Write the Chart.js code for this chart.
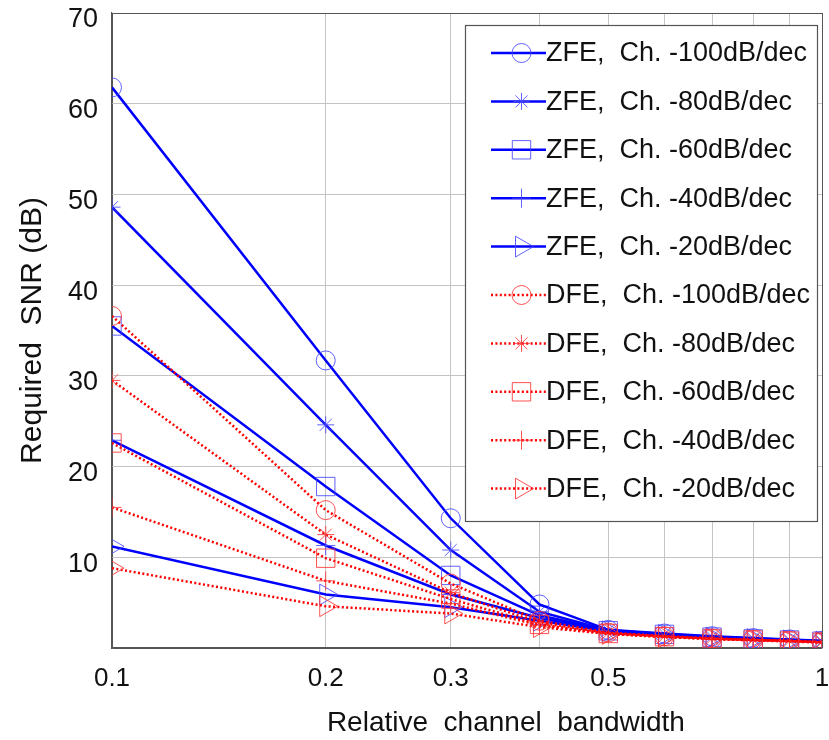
<!DOCTYPE html>
<html>
<head>
<meta charset="utf-8">
<title>Required SNR vs relative channel bandwidth</title>
<script src="https://cdn.jsdelivr.net/npm/chart.js@4/dist/chart.umd.min.js"></script>
<style>
  html, body { margin: 0; padding: 0; background: #ffffff; }
  #wrap { width: 829px; height: 740px; }
</style>
</head>
<body>
<div id="wrap"><canvas id="snr" width="829" height="740"></canvas></div>
<script>
// Relative channel bandwidth (x, log scale)
const bandwidth = [0.1, 0.2, 0.3, 0.4, 0.5, 0.6, 0.7, 0.8, 0.9, 1.0];
const xTickLabels = [0.1, 0.2, 0.3, 0.5, 1];
const yTickLabels = [10, 20, 30, 40, 50, 60, 70];

// Required SNR (dB), zero-forcing equalizer
const zfe100 = [61.8, 31.7, 14.3, 4.8, 2.0, 1.6, 1.3, 1.1, 0.95, 0.8];
const zfe80  = [48.6, 24.6, 10.8, 4.0, 1.95, 1.55, 1.25, 1.05, 0.9, 0.75];
const zfe60  = [35.5, 17.8, 8.0, 3.6, 1.9, 1.5, 1.2, 1.0, 0.88, 0.75];
const zfe40  = [22.9, 11.3, 5.9, 3.3, 1.9, 1.45, 1.2, 1.0, 0.85, 0.72];
const zfe20  = [11.2, 5.9, 4.5, 3.0, 1.85, 1.45, 1.15, 1.0, 0.85, 0.72];

// Required SNR (dB), decision-feedback equalizer
const dfe100 = [36.6, 15.2, 7.1, 3.0, 1.7, 1.3, 1.05, 0.9, 0.8, 0.65];
const dfe80  = [29.5, 12.5, 6.1, 2.8, 1.65, 1.3, 1.05, 0.9, 0.78, 0.65];
const dfe60  = [22.6, 9.9, 5.4, 2.6, 1.6, 1.25, 1.0, 0.88, 0.75, 0.62];
const dfe40  = [15.5, 7.4, 4.9, 2.5, 1.6, 1.25, 1.0, 0.85, 0.75, 0.62];
const dfe20  = [8.8, 4.6, 3.8, 2.3, 1.55, 1.2, 1.0, 0.85, 0.72, 0.6];

const seriesLabels = [
  'ZFE,  Ch. -100dB/dec', 'ZFE,  Ch. -80dB/dec', 'ZFE,  Ch. -60dB/dec',
  'ZFE,  Ch. -40dB/dec', 'ZFE,  Ch. -20dB/dec',
  'DFE,  Ch. -100dB/dec', 'DFE,  Ch. -80dB/dec', 'DFE,  Ch. -60dB/dec',
  'DFE,  Ch. -40dB/dec', 'DFE,  Ch. -20dB/dec'
];
const seriesValues = [zfe100, zfe80, zfe60, zfe40, zfe20, dfe100, dfe80, dfe60, dfe40, dfe20];

// marker shapes: o, *, square, +, right-pointing triangle
const markers = [
  { pointStyle: 'circle',   radius: 9.5, rotation: 0 },
  { pointStyle: 'star',     radius: 8.5, rotation: 0 },
  { pointStyle: 'rect',     radius: 13,  rotation: 0 },
  { pointStyle: 'cross',    radius: 9.5, rotation: 0 },
  { pointStyle: 'triangle', radius: 12,  rotation: 90 }
];

const BLUE = '#0000ff';
const BLUE_MARK = 'rgba(70,70,255,0.85)';
const RED = '#ff0000';
const RED_MARK = 'rgba(255,50,50,0.85)';

const datasets = seriesValues.map((vals, i) => {
  const isZfe = i < 5;
  const m = markers[i % 5];
  return {
    label: seriesLabels[i],
    data: bandwidth.map((x, k) => ({ x: x, y: vals[k] })),
    borderColor: isZfe ? BLUE : RED,
    borderWidth: 2.5,
    borderDash: isZfe ? [] : [2, 2.4],
    borderCapStyle: 'butt',
    tension: 0,
    fill: false,
    pointStyle: m.pointStyle,
    pointRadius: m.radius,
    pointRotation: m.rotation,
    pointBorderWidth: 1,
    pointBorderColor: isZfe ? BLUE_MARK : RED_MARK,
    pointBackgroundColor: 'rgba(0,0,0,0)',
    order: isZfe ? 1 : 0
  };
});

const FONT = "'Liberation Sans', Arial, Helvetica, sans-serif";

// Legend box drawn inside the axes, top-right corner, with line + marker samples
const insetLegend = {
  id: 'insetLegend',
  afterDraw(chart) {
    const ctx = chart.ctx;
    const area = chart.chartArea;
    const left = area.right - 357;
    const top = area.top + 12;
    const width = 352;
    const height = 496;
    ctx.save();
    ctx.fillStyle = '#ffffff';
    ctx.fillRect(left, top, width, height);
    ctx.strokeStyle = '#555555';
    ctx.lineWidth = 1.2;
    ctx.strokeRect(left + 0.5, top + 0.5, width, height);

    const rowStep = 48.4;
    chart.data.datasets.forEach((ds, i) => {
      const y = top + 28 + i * rowStep;
      const x0 = left + 26, x1 = left + 81, xm = left + 56.5;
      ctx.save();
      ctx.strokeStyle = ds.borderColor;
      ctx.lineWidth = ds.borderWidth;
      ctx.lineCap = 'butt';
      ctx.setLineDash(ds.borderDash || []);
      ctx.beginPath();
      ctx.moveTo(x0, y);
      ctx.lineTo(x1, y);
      ctx.stroke();
      ctx.setLineDash([]);
      ctx.strokeStyle = ds.pointBorderColor;
      ctx.fillStyle = 'rgba(0,0,0,0)';
      ctx.lineWidth = ds.pointBorderWidth;
      Chart.helpers.drawPoint(ctx, {
        pointStyle: ds.pointStyle,
        radius: ds.pointRadius,
        rotation: ds.pointRotation,
        borderWidth: ds.pointBorderWidth
      }, xm, y);
      ctx.restore();
      ctx.fillStyle = '#111111';
      ctx.font = '27px ' + FONT;
      ctx.textBaseline = 'middle';
      ctx.textAlign = 'left';
      ctx.fillText(ds.label, x1, y + 1);
    });
    ctx.restore();
  }
};

const edgeGrid = '#555555';
const innerGrid = '#c4c4c4';

new Chart(document.getElementById('snr'), {
  type: 'line',
  data: { datasets: datasets },
  options: {
    responsive: false,
    animation: false,
    devicePixelRatio: 1,
    layout: { autoPadding: false, padding: { left: 0, right: 7, top: 13, bottom: 0 } },
    plugins: {
      legend: { display: false },
      tooltip: { enabled: false }
    },
    scales: {
      x: {
        type: 'logarithmic',
        min: 0.1,
        max: 1,
        afterBuildTicks(scale) {
          scale.ticks = bandwidth.map(v => ({ value: v }));
        },
        afterFit(scale) {
          scale.height = 92;
          scale.paddingLeft = 0;
          scale.paddingRight = 0;
        },
        ticks: {
          autoSkip: false,
          maxRotation: 0,
          padding: 15,
          color: '#111111',
          font: { family: FONT, size: 26 },
          callback(value) {
            const v = Math.round(value * 10) / 10;
            return xTickLabels.some(t => Math.abs(t - v) < 1e-9) ? String(v) : '';
          }
        },
        grid: {
          drawTicks: false,
          lineWidth: 1,
          color(ctx) {
            const v = ctx.tick ? ctx.tick.value : null;
            return (v !== null && (Math.abs(v - 1) < 1e-9 || Math.abs(v - 0.1) < 1e-9)) ? edgeGrid : innerGrid;
          }
        },
        border: { display: true, color: edgeGrid, width: 1.2 },
        title: {
          display: true,
          text: '          Relative  channel  bandwidth',
          color: '#111111',
          font: { family: FONT, size: 28 },
          padding: { top: 0, bottom: 0 }
        }
      },
      y: {
        min: 0,
        max: 70,
        afterBuildTicks(scale) {
          scale.ticks = [0].concat(yTickLabels).map(v => ({ value: v }));
        },
        afterFit(scale) {
          scale.width = 112;
          scale.paddingTop = 0;
          scale.paddingBottom = 0;
        },
        ticks: {
          padding: 14,
          labelOffset: 7,
          color: '#111111',
          font: { family: FONT, size: 27 },
          callback(value) {
            return yTickLabels.includes(value) ? String(value) : '';
          }
        },
        grid: {
          drawTicks: false,
          lineWidth: 1,
          color(ctx) {
            const v = ctx.tick ? ctx.tick.value : null;
            return (v === 70 || v === 0) ? edgeGrid : innerGrid;
          }
        },
        border: { display: true, color: edgeGrid, width: 1.2 },
        title: {
          display: true,
          text: 'Required  SNR (dB)',
          color: '#111111',
          font: { family: FONT, size: 30 },
          padding: { top: 15, bottom: 0 }
        }
      }
    }
  },
  plugins: [insetLegend]
});
</script>
</body>
</html>
